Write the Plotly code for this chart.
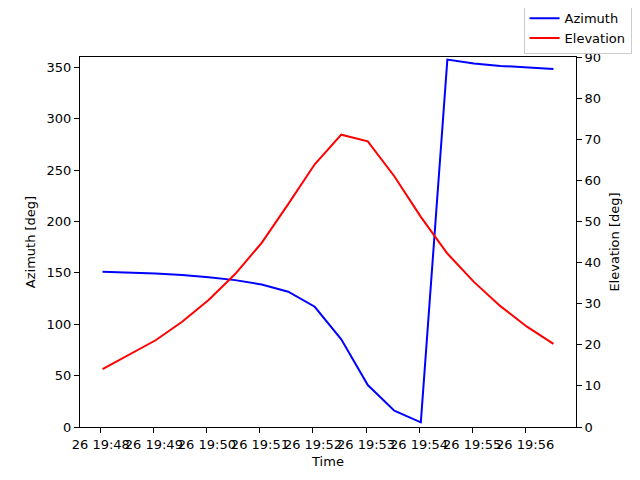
import pandas as pd
import plotly.graph_objs as go

# pass samples, every 30 s
times = pd.date_range("2023-05-26 19:48:02", periods=18, freq="30s")

azimuth = [151.0, 150.4, 149.4, 147.8, 145.8, 142.9, 138.7, 131.6, 117.0,
           85.3, 40.8, 15.9, 4.5, 357.5, 353.6, 351.3, 349.7, 348.4]
elevation = [14.1, 17.5, 21.1, 25.6, 30.9, 37.2, 44.8, 54.2, 63.9,
             71.1, 69.5, 61.0, 51.1, 42.2, 35.3, 29.4, 24.4, 20.2]

font = dict(family="DejaVu Sans", size=13, color="black")

trace1 = go.Scatter(x=times, y=azimuth, mode="lines", name="Azimuth",
                    line=dict(color="blue", width=2), yaxis="y")
trace2 = go.Scatter(x=times, y=elevation, mode="lines", name="Elevation",
                    line=dict(color="red", width=2), yaxis="y2")

axis_style = dict(showgrid=False, zeroline=False, showline=True, linecolor="black",
                  linewidth=1, ticks="outside", ticklen=5, tickcolor="black",
                  tickfont=font)

# page body has an 8px margin, so the figure is sized to fit the window
layout = go.Layout(
    width=632, height=472,
    margin=dict(l=72, r=64, t=49, b=53, autoexpand=False),
    plot_bgcolor="white", paper_bgcolor="white",
    font=font,
    xaxis=dict(axis_style, title=dict(text="Time", font=font, standoff=6),
               range=["2023-05-26 19:47:36.5", "2023-05-26 19:56:57.5"],
               tick0="2023-05-26 19:48:00", dtick=60000,
               tickformat="%d %H:%M", tickangle=0, mirror=True),
    yaxis=dict(axis_style, title=dict(text="Azimuth [deg]", font=font, standoff=8),
               range=[0, 360], tickvals=list(range(0, 351, 50))),
    yaxis2=dict(axis_style, title=dict(text="Elevation [deg]", font=font, standoff=9),
                range=[0, 90], tickvals=list(range(0, 91, 10)),
                overlaying="y", side="right"),
    legend=dict(x=1.112, y=1.148, xanchor="right", yanchor="top",
                bordercolor="#cccccc", borderwidth=1, bgcolor="white",
                font=font, itemwidth=30, tracegroupgap=0),
    showlegend=True,
)

fig = go.Figure(data=[trace1, trace2], layout=layout)
fig.write_html("out.html")
